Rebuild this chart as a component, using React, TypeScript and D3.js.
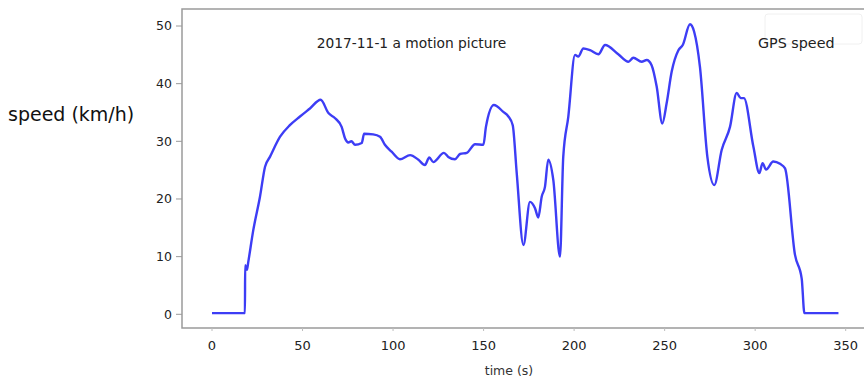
import React from 'react'
import * as d3 from 'd3'

// readings: time (s) and speed (km/h)
const times = [
  0, 18.2, 18.3, 19.3, 20, 22.8, 26.5, 29.3, 32, 37.6, 43, 48.6, 54.1, 60,
  64.3, 68, 71.6, 73.5, 75.3, 77, 79, 82.7, 84, 89, 92.8, 95.5, 99.2, 103.8,
  109.4, 114, 117.6, 120, 122.2, 128.1, 130.5, 134.2, 137, 140.7, 145.3,
  149.9, 151.3, 155.7, 160.9, 163.7, 166.1, 168.3, 172, 175.6, 178.4, 180.2,
  182.1, 183.9, 185.7, 188.5, 192.2, 194, 196.8, 200.5, 202.3, 205.1, 208.8,
  213.4, 217.1, 224.4, 230, 232.7, 237.3, 240.1, 242.8, 245.6, 248.7, 251.1,
  253.9, 257.6, 260, 264, 266.3, 269.5, 273.6, 277.4, 281.5, 286.1, 289.8,
  292, 293.8, 299, 302.3, 304.1, 306, 310, 313.7, 316.5, 322, 325.7, 327.2,
  346,
]
const speeds = [
  0.2, 0.2, 8.5, 7.7, 9, 14.6, 20.4, 25.6, 27.3, 30.8, 32.8, 34.3, 35.7, 37.2,
  34.9, 34, 32.5, 30.5, 29.8, 30, 29.4, 29.7, 31.3, 31.2, 30.8, 29.4, 28.2,
  26.9, 27.6, 26.8, 25.9, 27.2, 26.4, 28, 27.3, 26.9, 27.8, 28, 29.5, 29.4,
  32.5, 36.3, 35.1, 34.3, 32.8, 24.5, 12, 19.5, 18.4, 16.8, 20.4, 22.1, 26.8,
  23.3, 10, 27.3, 34.3, 45, 44.7, 46.1, 45.8, 45.1, 46.7, 45.1, 43.8, 44.5,
  43.8, 44.1, 43.2, 39.5, 33.1, 36.6, 42.1, 45.8, 46.7, 50.3, 49, 42.9, 27.3,
  22.4, 28.5, 32.5, 38.4, 37.5, 37.5, 29.1, 24.5, 26.2, 25.1, 26.5, 26.1,
  25.3, 10.3, 6.2, 0.2, 0.2,
]
const xTicks = [0, 50, 100, 150, 200, 250, 300, 350]
const yTicks = [0, 10, 20, 30, 40, 50]

const W = 865
const H = 378
const frame = { left: 182, top: 9, right: 864, bottom: 328 }
const font = '"DejaVu Sans", sans-serif'

export default function App() {
  const x = d3.scaleLinear().domain([0, 350]).range([212, 845.7])
  const y = d3.scaleLinear().domain([0, 50]).range([314.3, 26])

  const pts = times.map((t, i) => [t, speeds[i]] as [number, number])
  const path = d3.line<[number, number]>()
    .x(d => x(d[0]))
    .y(d => y(d[1]))
    .curve(d3.curveMonotoneX)(pts)

  return (
    <svg width={W} height={H} style={{ position: 'absolute', left: 0, top: 0, background: '#fff' }}>
      {/* frame */}
      <path
        d={`M${frame.right},${frame.top}H${frame.left}V${frame.bottom}H${frame.right}`}
        fill="none" stroke="#9a9a9a" strokeWidth={1.5}
      />
      {/* faint legend box */}
      <rect x={765} y={14} width={97} height={30} rx={3} fill="none" stroke="#f0f0f0" />

      {/* y axis */}
      {yTicks.map(v => (
        <g key={v} transform={`translate(0,${y(v)})`}>
          <line x1={frame.left - 6} x2={frame.left} stroke="#9a9a9a" />
          <text x={frame.left - 10} dy="0.35em" textAnchor="end" fontFamily={font} fontSize={12.5} fill="#222">{v}</text>
        </g>
      ))}
      {/* x axis */}
      {xTicks.map(v => (
        <g key={v} transform={`translate(${x(v)},0)`}>
          <line y1={frame.bottom} y2={frame.bottom + 3} stroke="#bdbdbd" />
          <text y={frame.bottom + 17} dy="0.35em" textAnchor="middle" fontFamily={font} fontSize={13} fill="#222">{v}</text>
        </g>
      ))}

      <path d={path ?? ''} fill="none" stroke="#3d3df5" strokeWidth={2.4} strokeLinejoin="round" />

      <text x={8} y={114} dy="0.35em" fontFamily={font} fontSize={19} fill="#111">speed (km/h)</text>
      <text x={509} y={371} dy="0.35em" textAnchor="middle" fontFamily={font} fontSize={12.5} fill="#333">time (s)</text>
      <text x={411.5} y={43} dy="0.35em" textAnchor="middle" fontFamily={font} fontSize={13.8} fill="#222">2017-11-1 a motion picture</text>
      <text x={758} y={43} dy="0.35em" fontFamily={font} fontSize={14.3} fill="#222">GPS speed</text>
    </svg>
  )
}
